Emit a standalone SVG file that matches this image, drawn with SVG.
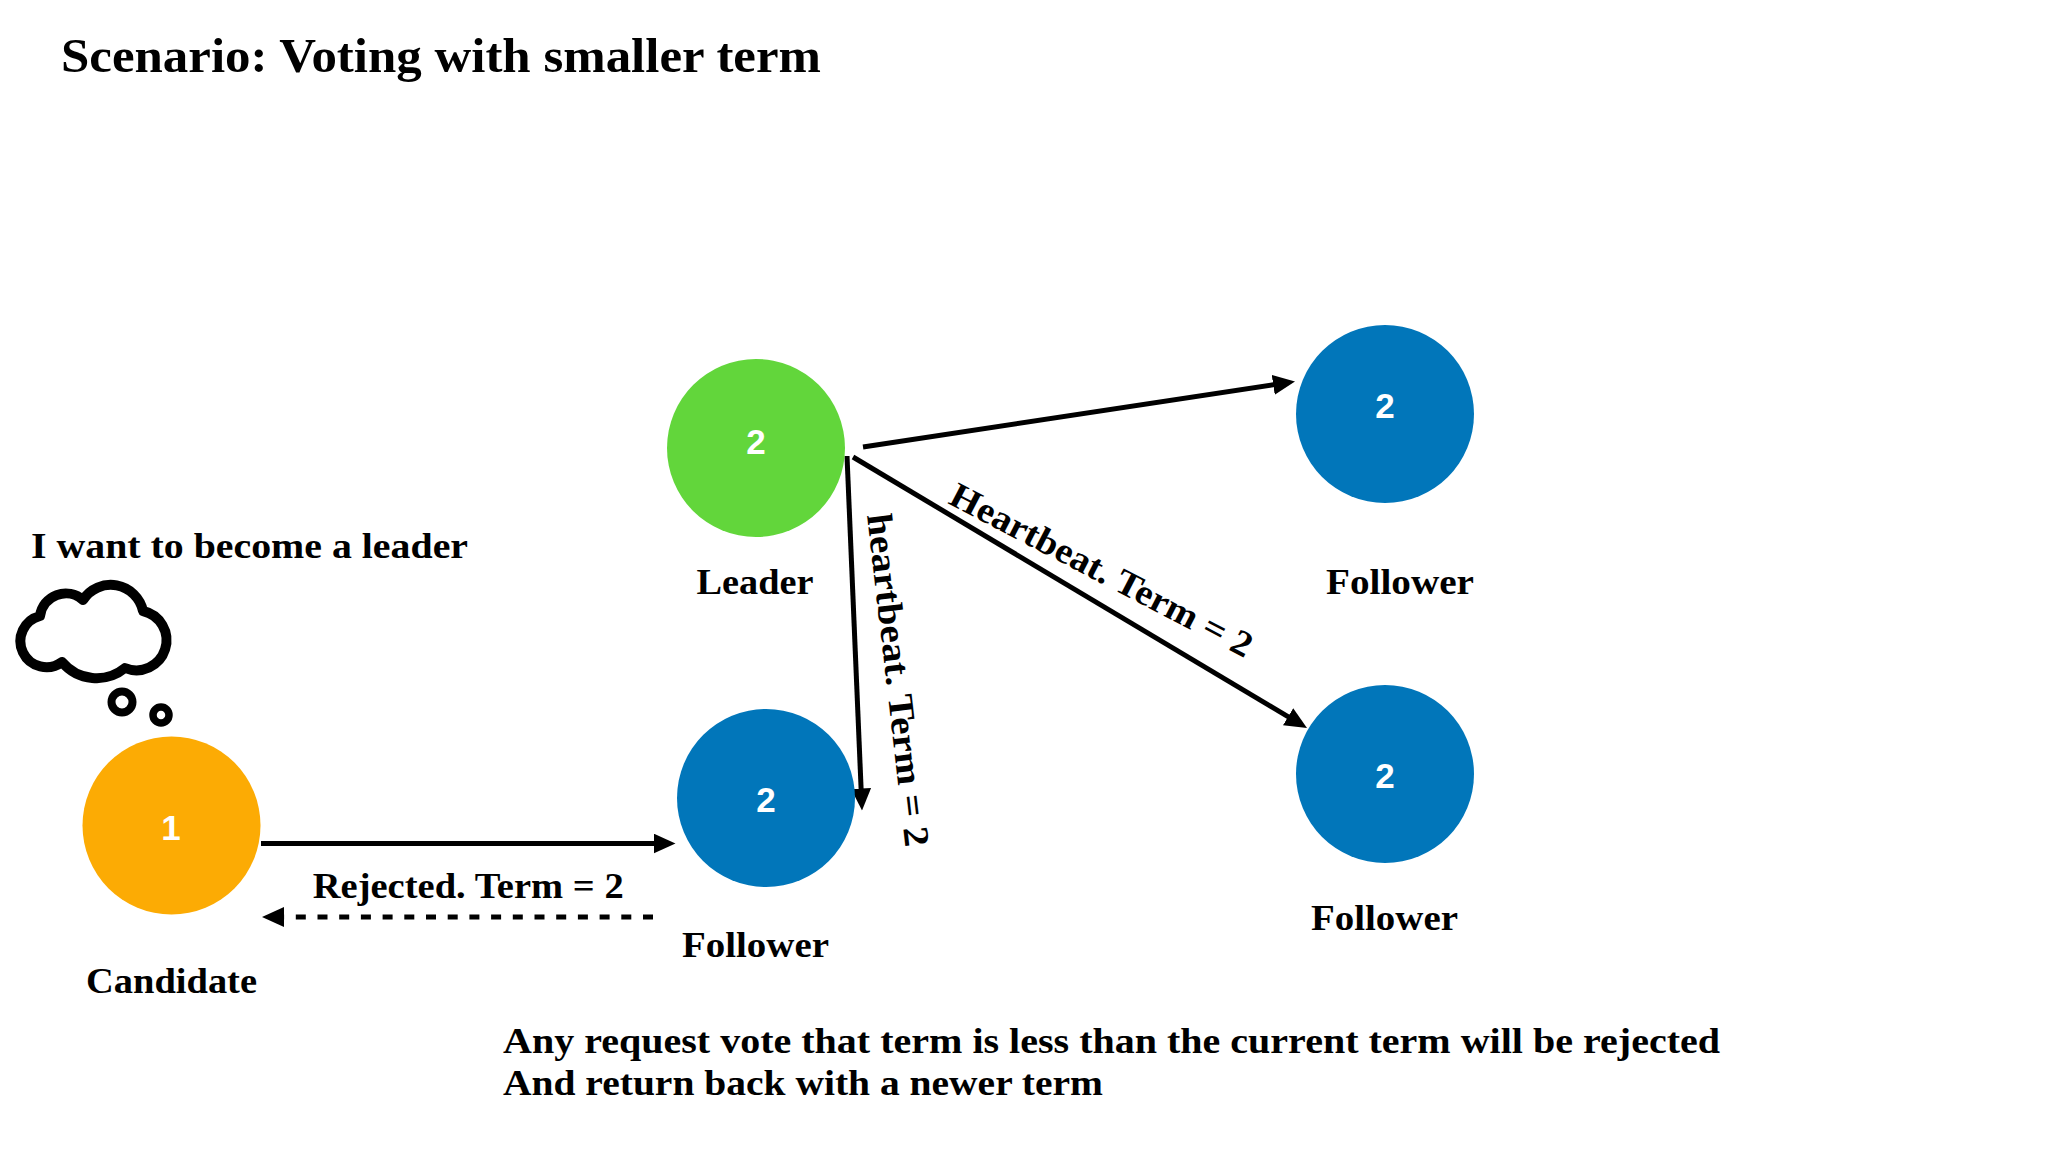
<svg xmlns="http://www.w3.org/2000/svg" width="2048" height="1152" viewBox="0 0 2048 1152">
<style>
.t { font-family: "Liberation Serif", "Times New Roman", serif; font-weight: bold; fill: #000; font-size: 36px; }
.title { font-size: 48px; }
.num { font-family: "Liberation Sans", Arial, sans-serif; font-weight: bold; font-size: 35px; fill: #fff; text-anchor: middle; }
.edge { stroke: #000; stroke-width: 5; fill: none; marker-end: url(#arrow); }
.dash { stroke-dasharray: 10 11.7; }
.green { fill: #62D63B; }
.blue { fill: #0176BA; }
.orange { fill: #FCAB04; }
</style>
<defs>
<marker id="arrow" viewBox="0 0 22 20" refX="12" refY="10" markerWidth="22" markerHeight="20" markerUnits="userSpaceOnUse" orient="auto">
<path d="M0,0 L22,10 L0,20 Z" fill="#000"/>
</marker>
</defs>
<rect width="2048" height="1152" fill="#fff"/>

<text class="t title" x="61" y="72" textLength="760" lengthAdjust="spacingAndGlyphs">Scenario: Voting with smaller term</text>

<g id="connectors">
<line class="edge" x1="863" y1="447" x2="1285.1" y2="383"/>
<line class="edge" x1="853" y1="457" x2="1298.4" y2="722.9"/>
<line class="edge" x1="847" y1="456" x2="861.6" y2="800.5"/>
<line class="edge" x1="261" y1="843.5" x2="665.5" y2="843.5"/>
<line class="edge dash" x1="653" y1="917" x2="272" y2="917"/>
<text class="t" transform="translate(947 503) rotate(27.5)" textLength="336" lengthAdjust="spacingAndGlyphs">Heartbeat. Term = 2</text>
<text class="t" transform="translate(867 515) rotate(83.4)" textLength="335" lengthAdjust="spacingAndGlyphs">heartbeat. Term = 2</text>
<text class="t" x="312.7" y="898.3" textLength="311" lengthAdjust="spacingAndGlyphs">Rejected. Term = 2</text>
</g>

<g id="leader">
<circle class="green" cx="756" cy="448" r="89"/>
<text class="num" x="756" y="454">2</text>
<text class="t" x="696.5" y="593.5" textLength="117" lengthAdjust="spacingAndGlyphs">Leader</text>
</g>

<g id="follower-top">
<circle class="blue" cx="1385" cy="414" r="89"/>
<text class="num" x="1385" y="418">2</text>
<text class="t" x="1326" y="593.5" textLength="148" lengthAdjust="spacingAndGlyphs">Follower</text>
</g>

<g id="follower-bottom">
<circle class="blue" cx="1385" cy="774" r="89"/>
<text class="num" x="1385" y="788">2</text>
<text class="t" x="1311" y="930" textLength="147" lengthAdjust="spacingAndGlyphs">Follower</text>
</g>

<g id="follower-middle">
<circle class="blue" cx="766" cy="798" r="89"/>
<text class="num" x="766" y="812">2</text>
<text class="t" x="682" y="957" textLength="147" lengthAdjust="spacingAndGlyphs">Follower</text>
</g>

<g id="candidate">
<circle class="orange" cx="171.5" cy="825.5" r="89"/>
<text class="num" x="171" y="840">1</text>
<text class="t" x="86" y="993" textLength="171" lengthAdjust="spacingAndGlyphs">Candidate</text>
</g>

<g id="thought">
<text class="t" x="31" y="558" textLength="437" lengthAdjust="spacingAndGlyphs">I want to become a leader</text>
<path d="M40 616 A26 26 0 0 1 83 600 A33 33 0 0 1 143 611 A30 30 0 1 1 125 668 A45 45 0 0 1 62 662 A26 26 0 1 1 40 616 Z" fill="#fff" stroke="#000" stroke-width="10" stroke-linejoin="round"/>
<circle cx="122" cy="702" r="10.5" fill="none" stroke="#000" stroke-width="8"/>
<circle cx="161" cy="715" r="8" fill="none" stroke="#000" stroke-width="7.5"/>
</g>

<g id="note">
<text class="t" x="503" y="1052.5" textLength="1217" lengthAdjust="spacingAndGlyphs">Any request vote that term is less than the current term will be rejected</text>
<text class="t" x="503" y="1094.5" textLength="600" lengthAdjust="spacingAndGlyphs">And return back with a newer term</text>
</g>
</svg>
